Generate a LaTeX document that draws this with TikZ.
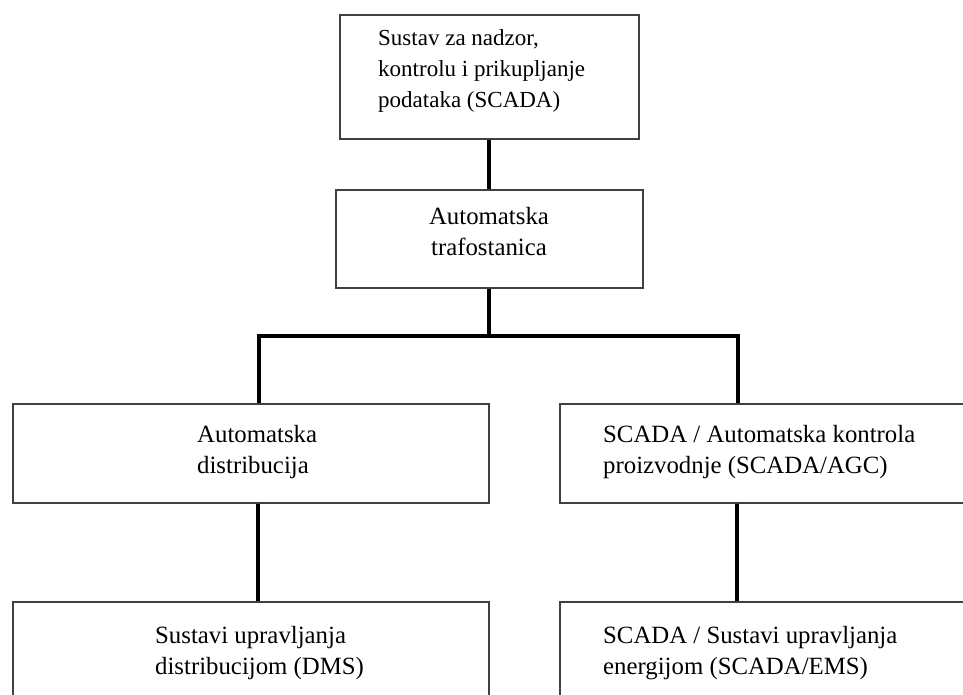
\documentclass[tikz,border=0pt]{standalone}
\usepackage{fontspec}
\setmainfont{Liberation Serif}
\begin{document}
\begin{tikzpicture}[x=1pt,y=-1pt,
  boxnode/.style={draw=black!75, line width=1.6pt, rectangle, inner sep=0pt, anchor=north west},
  txt/.style={font=\fontsize{24.8}{31}\selectfont, align=left, anchor=base west, inner sep=0pt},
  conn/.style={line width=3.2pt, black}]
\useasboundingbox (0,0) rectangle (963,695);
\clip (0,0) rectangle (963,695);
\fill[white] (0,0) rectangle (963,695);
% boxes
\node[boxnode, minimum width=299pt, minimum height=124pt] (scada) at (339,14) {};
\node[boxnode, minimum width=307pt, minimum height=98pt] (trafo) at (335,189) {};
\node[boxnode, minimum width=476pt, minimum height=99pt] (dist) at (12,403) {};
\node[boxnode, minimum width=430pt, minimum height=99pt] (agc) at (559,403) {};
\node[boxnode, minimum width=476pt, minimum height=140pt] (dms) at (12,601) {};
\node[boxnode, minimum width=430pt, minimum height=140pt] (ems) at (559,601) {};
% texts (anchored at the baseline of the last line)
\node[txt, font=\fontsize{23}{31}\selectfont] (tscada) at (378,108) {Sustav za nadzor,\\kontrolu i prikupljanje\\podataka (SCADA)};
\node[txt, align=center, anchor=base] (ttrafo) at (489,255) {Automatska\\trafostanica};
\node[txt] (tdist) at (197,473) {Automatska\\distribucija};
\node[txt] (tagc) at (603,473) {SCADA / Automatska kontrola\\proizvodnje (SCADA/AGC)};
\node[txt] (tdms) at (155,674) {Sustavi upravljanja\\distribucijom (DMS)};
\node[txt] (tems) at (603,674) {SCADA / Sustavi upravljanja\\energijom (SCADA/EMS)};
% connectors
\coordinate (junc) at (489,336);
\draw[conn] (scada.south -| junc) -- (trafo.north -| junc);
\draw[conn] (trafo.south -| junc) -- (junc);
\draw[conn] (dist.north -| 259,0) -- (259,336) -- (738,336) -- (agc.north -| 738,0);
\draw[conn] (dist.south -| 258,0) -- (dms.north -| 258,0);
\draw[conn] (agc.south -| 737,0) -- (ems.north -| 737,0);
\end{tikzpicture}
\end{document}
